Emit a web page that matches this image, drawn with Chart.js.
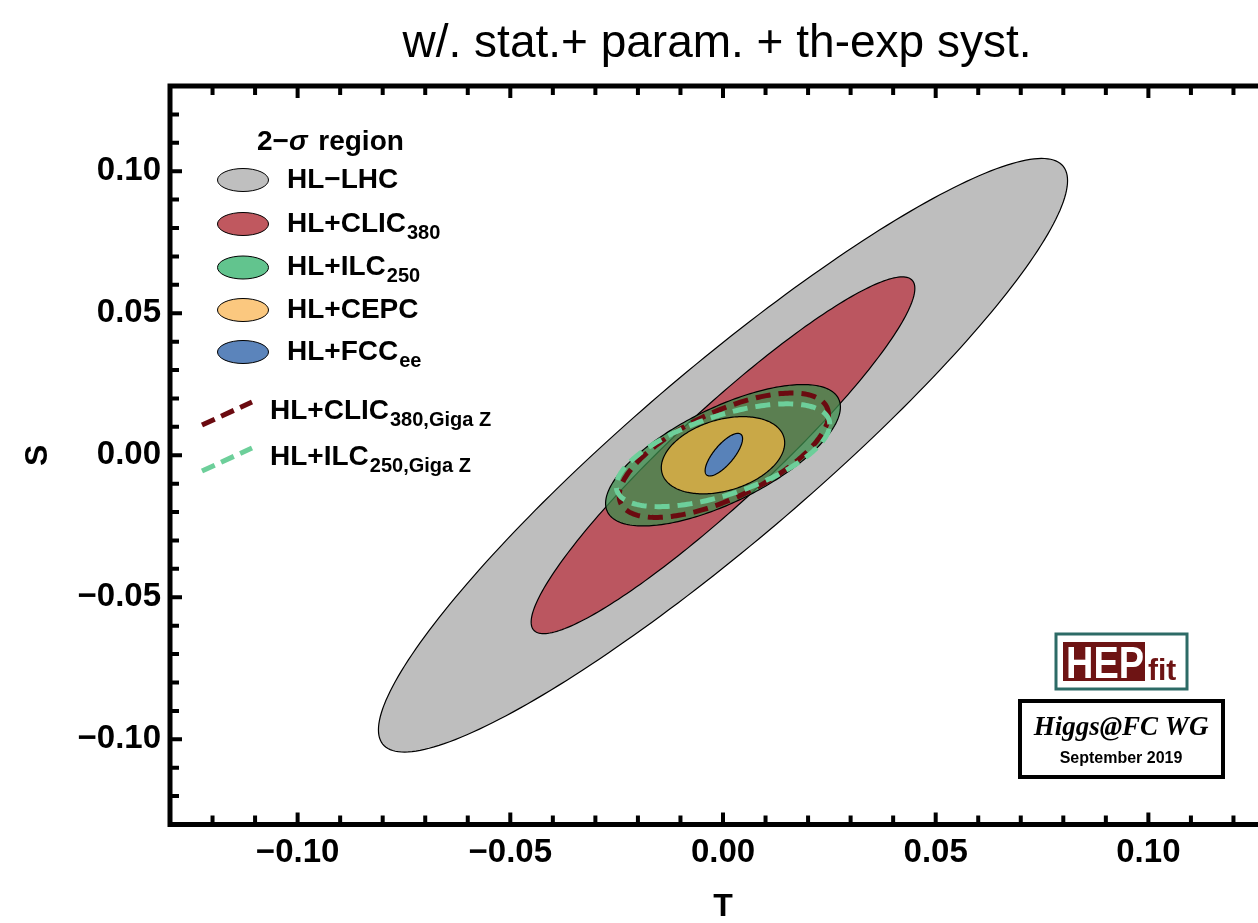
<!DOCTYPE html>
<html>
<head>
<meta charset="utf-8">
<script src="https://cdn.jsdelivr.net/npm/chart.js@4.4.0/dist/chart.umd.min.js"></script>
<style>
  html, body { margin: 0; padding: 0; background: #fff; overflow: hidden; }
  #wrap { width: 1258px; height: 923px; overflow: hidden; }
</style>
</head>
<body>
<div id="wrap"><canvas id="c" width="1290" height="923"></canvas></div>
<script>
// titres et graduations
const chartTitle = 'w/. stat.+ param. + th-exp syst.';
const axisTitleT = 'T';
const axisTitleS = 'S';
const tickValues = [-0.10, -0.05, 0.00, 0.05, 0.10];
const tickLabels = ['−0.10', '−0.05', '0.00', '0.05', '0.10'];

// régions à 2 sigma (remplies) : centre, demi-largeurs et corrélation
const regionNames   = ['HL−LHC', 'HL+CLIC', 'HL+ILC', 'HL+CEPC', 'HL+FCC'];
const regionSubs    = ['', '380', '250', '', 'ee'];
const regionCenterT = [0, 0, 0, 0, 0.0002];
const regionCenterS = [0, 0, 0, 0, 0.0002];
const regionHalfT   = [0.0810, 0.0451, 0.0276, 0.0145, 0.0044];
const regionHalfS   = [0.1045, 0.0628, 0.0249, 0.0136, 0.0075];
const regionCorr    = [0.925, 0.935, 0.68, 0.32, 0.75];

// Giga Z (contours en tirets)
const gigaNames   = ['HL+CLIC', 'HL+ILC'];
const gigaSubs    = ['380,Giga Z', '250,Giga Z'];
const gigaCenterT = [0.0002, 0];
const gigaCenterS = [0, 0];
const gigaHalfT   = [0.0246, 0.0251];
const gigaHalfS   = [0.0219, 0.0181];
const gigaCorr    = [0.65, 0.60];

const legendTitle = ['2−', 'σ', ' region'];

// couleurs
const regionFill = ['#bebebe', '#bb5660', 'rgba(60,140,76,0.76)', '#c9a847', '#5882b9'];
const legendFill = ['#bfbfbf', '#c0585f', '#62c48e', '#fbc87f', '#5b84bb'];
const gigaColor  = ['#6b0a10', '#6dcf9a'];

const SANS = '"Liberation Sans", Arial, Helvetica, sans-serif';
const SERIF = '"Liberation Serif", "Times New Roman", serif';

// un dataset par contour, le dessin se fait dans le plugin
const datasets = [];
regionNames.forEach((name, i) => {
  datasets.push({
    label: name + regionSubs[i],
    data: [{ x: regionCenterT[i], y: regionCenterS[i] }],
    halfT: regionHalfT[i], halfS: regionHalfS[i], corr: regionCorr[i],
    kind: 'fill', color: regionFill[i], pointRadius: 0
  });
});
gigaNames.forEach((name, i) => {
  datasets.push({
    label: name + gigaSubs[i],
    data: [{ x: gigaCenterT[i], y: gigaCenterS[i] }],
    halfT: gigaHalfT[i], halfS: gigaHalfS[i], corr: gigaCorr[i],
    kind: 'dash', color: gigaColor[i], pointRadius: 0
  });
});

// contour elliptique en coordonnées (T,S) -> pixels via les échelles
function ellipsePath(ctx, xs, ys, ds) {
  const c = ds.data[0];
  const r2 = Math.sqrt(1 - ds.corr * ds.corr);
  const n = 240;
  ctx.beginPath();
  for (let i = 0; i <= n; i++) {
    const th = 2 * Math.PI * i / n;
    const t = c.x + ds.halfT * Math.cos(th);
    const s = c.y + ds.halfS * (ds.corr * Math.cos(th) + r2 * Math.sin(th));
    const px = xs.getPixelForValue(t), py = ys.getPixelForValue(s);
    if (i === 0) ctx.moveTo(px, py); else ctx.lineTo(px, py);
  }
  ctx.closePath();
}

function subText(ctx, x, y, main, sub, size) {
  ctx.font = `bold ${size}px ${SANS}`;
  ctx.fillText(main, x, y);
  if (!sub) return;
  const w = ctx.measureText(main).width;
  ctx.font = `bold ${Math.round(size * 0.72)}px ${SANS}`;
  ctx.fillText(sub, x + w + 1, y + 7);
}

const contourPlugin = {
  id: 'contours',
  beforeDatasetsDraw(chart) {
    const { ctx, chartArea: ca } = chart;
    const xs = chart.scales.x, ys = chart.scales.y;
    ctx.save();
    ctx.beginPath();
    ctx.rect(ca.left, ca.top, ca.width, ca.height);
    ctx.clip();
    chart.data.datasets.forEach(ds => {
      ellipsePath(ctx, xs, ys, ds);
      if (ds.kind === 'fill') {
        ctx.fillStyle = ds.color;
        ctx.fill();
        ctx.setLineDash([]);
        ctx.lineWidth = 1.2;
        ctx.strokeStyle = '#000';
        ctx.stroke();
      } else {
        ctx.setLineDash([15, 8]);
        ctx.lineWidth = 5;
        ctx.strokeStyle = ds.color;
        ctx.stroke();
      }
    });
    ctx.restore();
  },
  afterDraw(chart) {
    const { ctx, chartArea: ca } = chart;
    const xs = chart.scales.x, ys = chart.scales.y;
    ctx.save();

    // cadre et graduations intérieures
    ctx.strokeStyle = '#000';
    ctx.lineWidth = 5;
    ctx.strokeRect(ca.left, ca.top, ca.right - ca.left, ca.bottom - ca.top);
    ctx.lineWidth = 4;
    for (let k = -12; k <= 12; k++) {
      const len = k % 5 === 0 ? 12 : 9;
      const px = xs.getPixelForValue(k / 100);
      const py = ys.getPixelForValue(k / 100);
      ctx.beginPath();
      ctx.moveTo(px, ca.bottom); ctx.lineTo(px, ca.bottom - len);
      ctx.moveTo(px, ca.top); ctx.lineTo(px, ca.top + len);
      ctx.moveTo(ca.left, py); ctx.lineTo(ca.left + len, py);
      ctx.moveTo(ca.right, py); ctx.lineTo(ca.right - len, py);
      ctx.stroke();
    }

    // titre
    ctx.fillStyle = '#000';
    ctx.textAlign = 'center';
    ctx.textBaseline = 'alphabetic';
    ctx.font = `46px ${SANS}`;
    ctx.fillText(chartTitle, 717, 57);

    // légende
    ctx.textAlign = 'left';
    let x = 257;
    ctx.font = `bold 28px ${SANS}`;
    ctx.fillText(legendTitle[0], x, 150);
    x += ctx.measureText(legendTitle[0]).width;
    ctx.font = `italic bold 28px ${SANS}`;
    ctx.fillText(legendTitle[1], x, 150);
    x += ctx.measureText(legendTitle[1]).width + 3;
    ctx.font = `bold 28px ${SANS}`;
    ctx.fillText(legendTitle[2], x, 150);

    const swY = [180, 224, 267.5, 310, 352];
    regionNames.forEach((name, i) => {
      ctx.beginPath();
      ctx.ellipse(243, swY[i], 25.5, 11.5, 0, 0, 2 * Math.PI);
      ctx.fillStyle = legendFill[i];
      ctx.fill();
      ctx.lineWidth = 1;
      ctx.strokeStyle = '#000';
      ctx.stroke();
      ctx.fillStyle = '#000';
      subText(ctx, 287, swY[i] + 7.5, name, regionSubs[i], 28);
    });

    const dashY = [425, 471];
    gigaNames.forEach((name, i) => {
      ctx.beginPath();
      ctx.setLineDash([14, 7]);
      ctx.lineWidth = 5;
      ctx.strokeStyle = gigaColor[i];
      ctx.moveTo(202, dashY[i]);
      ctx.lineTo(252, dashY[i] - 23);
      ctx.stroke();
      ctx.setLineDash([]);
      ctx.fillStyle = '#000';
      subText(ctx, 270, dashY[i] - 6, name, gigaSubs[i], 28);
    });

    // logo HEPfit
    ctx.lineWidth = 3;
    ctx.strokeStyle = '#2d6b66';
    ctx.strokeRect(1056, 634, 131, 55);
    ctx.fillStyle = '#6e1414';
    ctx.fillRect(1063, 642, 82, 39);
    ctx.fillStyle = '#fff';
    ctx.font = `bold 44px ${SANS}`;
    ctx.fillText('HEP', 1066, 678, 78);
    ctx.fillStyle = '#6e1414';
    ctx.font = `bold 30px ${SANS}`;
    ctx.fillText('fit', 1148, 680, 32);

    // cartouche Higgs@FC WG
    ctx.lineWidth = 4;
    ctx.strokeStyle = '#000';
    ctx.strokeRect(1020, 701, 203, 76);
    ctx.fillStyle = '#000';
    ctx.textAlign = 'center';
    ctx.font = `italic bold 27px ${SERIF}`;
    ctx.fillText('Higgs@FC WG', 1121, 735);
    ctx.font = `bold 16px ${SANS}`;
    ctx.fillText('September 2019', 1121, 763);

    ctx.restore();
  }
};

const tickFont = { family: SANS, size: 33, weight: 'bold' };
const titleFont = { family: SANS, size: 32, weight: 'bold', lineHeight: 1 };

new Chart(document.getElementById('c'), {
  type: 'scatter',
  data: { datasets },
  options: {
    responsive: false,
    animation: false,
    events: [],
    layout: { padding: { left: 22, top: 86, right: 14, bottom: 0 } },
    plugins: {
      legend: { display: false },
      tooltip: { enabled: false },
      title: { display: false }
    },
    scales: {
      x: {
        type: 'linear', min: -0.13, max: 0.13,
        afterBuildTicks: s => { s.ticks = tickValues.map(v => ({ value: v })); },
        afterFit: s => { s.height = 98.5; },
        grid: { display: false, drawTicks: false },
        border: { display: false },
        ticks: { padding: 9, color: '#000', font: tickFont, maxRotation: 0, callback: (v, i) => tickLabels[i] },
        title: { display: true, text: axisTitleT, color: '#000', font: titleFont, padding: 0 }
      },
      y: {
        type: 'linear', min: -0.13, max: 0.13,
        afterBuildTicks: s => { s.ticks = tickValues.map(v => ({ value: v })); },
        afterFit: s => { s.width = 148; },
        grid: { display: false, drawTicks: false },
        border: { display: false },
        ticks: { padding: 9, color: '#000', font: tickFont, callback: (v, i) => tickLabels[i] },
        title: { display: true, text: axisTitleS, color: '#000', font: titleFont, padding: 0 }
      }
    }
  },
  plugins: [contourPlugin]
});
</script>
</body>
</html>
